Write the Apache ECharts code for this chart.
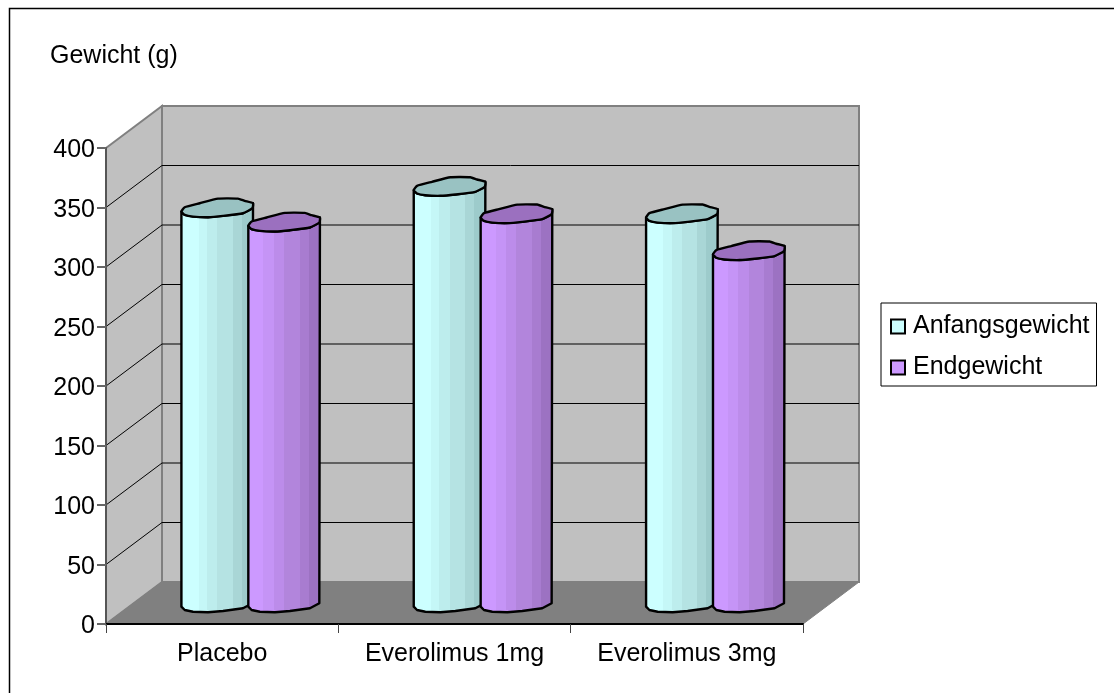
<!DOCTYPE html>
<html>
<head>
<meta charset="utf-8">
<style>html,body{margin:0;padding:0;background:#fff}#chart{width:1114px;height:693px}</style>
<script src="https://cdn.jsdelivr.net/npm/echarts@6/dist/echarts.min.js"></script>
</head>
<body>
<div id="chart"></div>
<script>
// Body weights per treatment group, in grams
const categories = ['Placebo', 'Everolimus 1mg', 'Everolimus 3mg'];
const anfangsgewicht = [332, 350, 327];
const endgewicht = [320, 327, 296];
const gridValues = [50, 100, 150, 200, 250, 300, 350];

// Oblique projection of the box: how far the back wall sits from the front plane
const DEPTH = [56, -42];
const FONT = '"Liberation Sans", Arial, sans-serif';

// Cylinder cap outline, relative to the cap centre, clockwise from the left edge
const CAP = [[-35.3,3.7],[-32,-0.7],[-17,-4.7],[1.3,-9.3],[21.3,-9.3],[28,-7],[36.3,-4.7],
             [35.7,0.3],[26.3,5.3],[6.3,8],[-8.7,9.3],[-23.7,8.7],[-32,7]];
const LOWER = CAP.slice(7).concat([CAP[0]]);

function shades(list) {
  const stops = [];
  list.forEach(function (s) {
    stops.push({offset: s[0], color: s[2]}, {offset: s[1], color: s[2]});
  });
  return new echarts.graphic.LinearGradient(0, 0, 1, 0, stops);
}

const cyanBody = [[0,0.25,'#CCFFFF'],[0.25,0.36,'#C5F7F7'],[0.36,0.5,'#BDEDED'],[0.5,0.71,'#B5E3E3'],[0.71,0.83,'#A9D6D6'],[0.83,1,'#9DCBCB']];
const purpleBody = [[0,0.22,'#CC99FF'],[0.22,0.36,'#C594F6'],[0.36,0.5,'#BC8CEA'],[0.5,0.71,'#B285DC'],[0.71,0.83,'#A87CD0'],[0.83,1,'#9C72C2']];

function plane(pts, fill, stroke, width) {
  return {type: 'polygon', shape: {points: pts},
    style: {fill: fill, stroke: stroke || null, lineWidth: width || 0}};
}

// Left wall, back wall and floor of the box
function renderBox(params, api) {
  const x0 = params.coordSys.x, x1 = x0 + params.coordSys.width;
  const yTop = api.coord([0, 400])[1], yBase = api.coord([0, 0])[1];
  const dx = DEPTH[0], dy = DEPTH[1];
  return {type: 'group', children: [
    plane([[x0,yTop],[x0+dx,yTop+dy],[x0+dx,yBase+dy],[x0,yBase]], '#C0C0C0', '#808080', 2),
    plane([[x0+dx,yTop+dy],[x1+dx,yTop+dy],[x1+dx,yBase+dy],[x0+dx,yBase+dy]], '#C0C0C0', '#808080', 2),
    plane([[x0,yBase],[x0+dx,yBase+dy],[x1+dx,yBase+dy],[x1,yBase]], '#808080', '#808080', 1)
  ]};
}

// One gridline: up the left wall, then across the back wall
function renderGridLine(params, api) {
  const y = api.coord([0, api.value(0)])[1];
  const x0 = params.coordSys.x, x1 = x0 + params.coordSys.width;
  return {type: 'polyline',
    shape: {points: [[x0,y],[x0+DEPTH[0],y+DEPTH[1]],[x1+DEPTH[0],y+DEPTH[1]]]},
    style: {fill: null, stroke: '#000', lineWidth: 1}};
}

function cylinderRenderer(side, body, capColor) {
  return function (params, api) {
    const band = api.size([1, 0])[0];
    const top = api.coord([api.value(0), api.value(1)]);
    const base = api.coord([api.value(0), 0]);
    const cx = top[0] + side * band * 0.144 + DEPTH[0] / 2;
    const topY = top[1] + DEPTH[1] / 2, baseY = base[1] + DEPTH[1] / 2;
    const at = function (p, y) { return [cx + p[0], y + p[1]]; };
    // Side wall: down the left, round the base to the right, up, then back along the cap front
    const shell = [at(CAP[0], topY)]
      .concat(LOWER.slice().reverse().map(function (p) { return at(p, baseY); }))
      .concat([at(CAP[6], topY)])
      .concat(LOWER.map(function (p) { return at(p, topY); }));
    return {type: 'group', children: [
      {type: 'polygon', shape: {points: shell},
        style: {fill: shades(body), stroke: '#000', lineWidth: 2.4, lineJoin: 'round'}},
      {type: 'polygon', shape: {points: CAP.map(function (p) { return at(p, topY); }), smooth: 0.15},
        style: {fill: capColor, stroke: '#000', lineWidth: 2.4, lineJoin: 'round'}}
    ]};
  };
}

const chart = echarts.init(document.getElementById('chart'), null, {renderer: 'canvas'});
chart.setOption({
  animation: false,
  backgroundColor: '#fff',
  grid: {left: 106, top: 148, width: 697, height: 476, containLabel: false},
  title: {text: 'Gewicht (g)', left: 50, top: 44, padding: 0,
    textStyle: {fontFamily: FONT, fontSize: 25, fontWeight: 'normal', color: '#000'}},
  legend: {
    orient: 'vertical', left: 881, top: 303, padding: [11, 7, 6, 9], itemGap: 16,
    itemWidth: 14, itemHeight: 14, borderColor: '#000', borderWidth: 1, backgroundColor: '#fff',
    textStyle: {fontFamily: FONT, fontSize: 25, color: '#000', padding: [0, 0, 0, 3]},
    data: [
      {name: 'Anfangsgewicht', icon: 'rect', itemStyle: {color: '#CCFFFF', borderColor: '#000', borderWidth: 2}},
      {name: 'Endgewicht', icon: 'rect', itemStyle: {color: '#CC99FF', borderColor: '#000', borderWidth: 2}}
    ]
  },
  xAxis: {
    type: 'category', data: categories, z: 2,
    axisLine: {lineStyle: {color: '#000', width: 2}},
    axisTick: {show: true, interval: 0, length: 9, lineStyle: {color: '#444', width: 1}},
    axisLabel: {interval: 0, fontFamily: FONT, fontSize: 25, color: '#000', margin: 18},
    splitLine: {show: false}
  },
  yAxis: {
    type: 'value', min: 0, max: 400, interval: 50, z: 2,
    axisLine: {show: true, lineStyle: {color: '#555', width: 2}},
    axisTick: {show: true, length: 9, lineStyle: {color: '#666', width: 2}},
    axisLabel: {
      margin: 11, formatter: '{t|{value}}',
      rich: {t: {fontFamily: FONT, fontSize: 25, color: '#000', padding: [5, 0, 0, 0]}}
    },
    splitLine: {show: false}
  },
  graphic: [{
    type: 'polyline', silent: true, z: -1,
    shape: {points: [[9.5, 693], [9.5, 8.5], [1114, 8.5]]},
    style: {fill: null, stroke: '#000', lineWidth: 1.5}
  }],
  series: [
    {name: 'box', type: 'custom', coordinateSystem: 'cartesian2d', z: 1, silent: true,
      renderItem: renderBox, data: [[0, 0]]},
    {name: 'grid', type: 'custom', coordinateSystem: 'cartesian2d', z: 1, silent: true,
      renderItem: renderGridLine, encode: {y: 0},
      data: gridValues.map(function (v) { return [v]; })},
    {name: 'Anfangsgewicht', type: 'custom', coordinateSystem: 'cartesian2d', z: 3,
      itemStyle: {color: '#CCFFFF'},
      renderItem: cylinderRenderer(-1, cyanBody, '#99C2C2'), encode: {x: 0, y: 1},
      data: anfangsgewicht.map(function (v, i) { return [i, v]; })},
    {name: 'Endgewicht', type: 'custom', coordinateSystem: 'cartesian2d', z: 3,
      itemStyle: {color: '#CC99FF'},
      renderItem: cylinderRenderer(1, purpleBody, '#9B70BF'), encode: {x: 0, y: 1},
      data: endgewicht.map(function (v, i) { return [i, v]; })}
  ]
});
</script>
</body>
</html>
